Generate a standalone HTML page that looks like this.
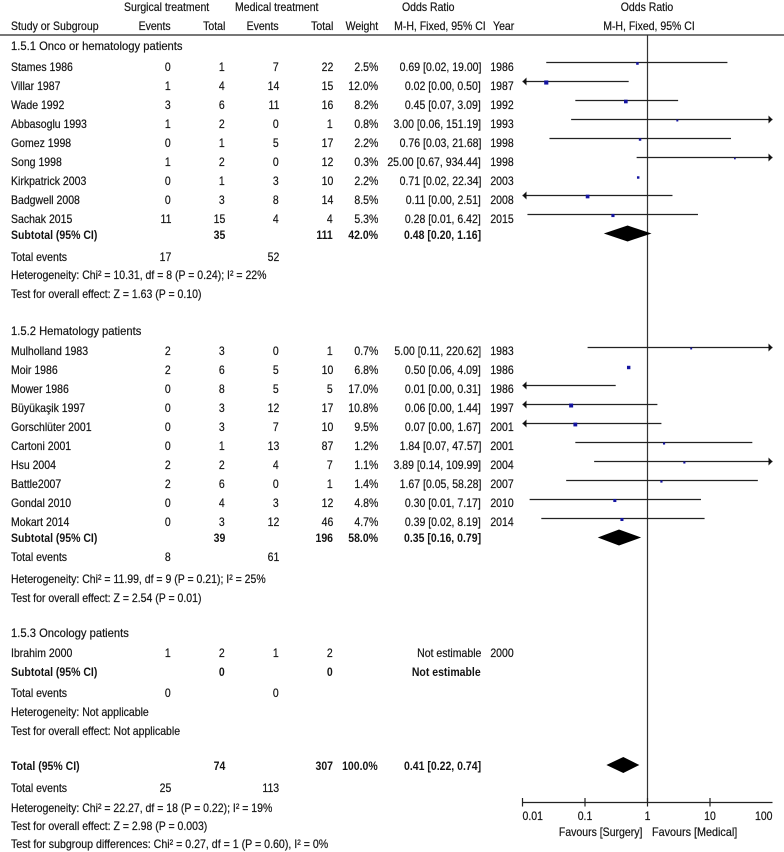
<!DOCTYPE html>
<html lang="en">
<head>
<meta charset="utf-8">
<title>Forest plot</title>
<style>
html,body{margin:0;padding:0;background:#fff;}
#page{position:relative;width:784px;height:852px;overflow:hidden;background:#fff;font-family:"Liberation Sans",sans-serif;font-size:12px;color:#141414;}
#plot{position:absolute;left:0;top:0;}
.r{position:absolute;left:0;width:784px;height:14px;line-height:14px;filter:blur(.25px);-webkit-text-stroke:.2px #141414;}
.r span{position:absolute;top:0;white-space:nowrap;transform:scaleX(.875);transform-origin:right center;}
.r.b{font-weight:bold;-webkit-text-stroke:0;}
.r span.c1{left:11px;transform-origin:left center;}
.r span.gt{transform:scaleX(.935);}
.c2{right:613px;}.c3{right:559px;}.c4{right:505px;}.c5{right:451px;}.c6{right:406px;}.c7{right:303px;}.c8{right:270px;}
.r span.cc{transform-origin:center center;transform:translateX(-50%) scaleX(.875);}
</style>
</head>
<body>
<div id="page">

<div class="r" style="top:0">
<span style="left:124px;transform-origin:left center">Surgical treatment</span>
<span style="left:235px;transform-origin:left center">Medical treatment</span>
<span style="left:402px;transform-origin:left center">Odds Ratio</span>
<span class="cc" style="left:647px">Odds Ratio</span>
</div>
<div class="r" style="top:19px">
<span class="c1">Study or Subgroup</span>
<span class="c2">Events</span>
<span class="c3">Total</span>
<span class="c4">Events</span>
<span class="c5">Total</span>
<span class="c6">Weight</span>
<span style="right:298px">M-H, Fixed, 95% CI</span>
<span class="c8">Year</span>
<span class="cc" style="left:649px">M-H, Fixed, 95% CI</span>
</div>

<div class="r" style="top:39px"><span class="c1 gt">1.5.1 Onco or hematology patients</span></div>

<div class="r" style="top:60px"><span class="c1">Stames 1986</span><span class="c2">0</span><span class="c3">1</span><span class="c4">7</span><span class="c5">22</span><span class="c6">2.5%</span><span class="c7">0.69 [0.02, 19.00]</span><span class="c8">1986</span></div>
<div class="r" style="top:79px"><span class="c1">Villar 1987</span><span class="c2">1</span><span class="c3">4</span><span class="c4">14</span><span class="c5">15</span><span class="c6">12.0%</span><span class="c7">0.02 [0.00, 0.50]</span><span class="c8">1987</span></div>
<div class="r" style="top:98px"><span class="c1">Wade 1992</span><span class="c2">3</span><span class="c3">6</span><span class="c4">11</span><span class="c5">16</span><span class="c6">8.2%</span><span class="c7">0.45 [0.07, 3.09]</span><span class="c8">1992</span></div>
<div class="r" style="top:117px"><span class="c1">Abbasoglu 1993</span><span class="c2">1</span><span class="c3">2</span><span class="c4">0</span><span class="c5">1</span><span class="c6">0.8%</span><span class="c7">3.00 [0.06, 151.19]</span><span class="c8">1993</span></div>
<div class="r" style="top:136px"><span class="c1">Gomez 1998</span><span class="c2">0</span><span class="c3">1</span><span class="c4">5</span><span class="c5">17</span><span class="c6">2.2%</span><span class="c7">0.76 [0.03, 21.68]</span><span class="c8">1998</span></div>
<div class="r" style="top:155px"><span class="c1">Song 1998</span><span class="c2">1</span><span class="c3">2</span><span class="c4">0</span><span class="c5">12</span><span class="c6">0.3%</span><span class="c7">25.00 [0.67, 934.44]</span><span class="c8">1998</span></div>
<div class="r" style="top:174px"><span class="c1">Kirkpatrick 2003</span><span class="c2">0</span><span class="c3">1</span><span class="c4">3</span><span class="c5">10</span><span class="c6">2.2%</span><span class="c7">0.71 [0.02, 22.34]</span><span class="c8">2003</span></div>
<div class="r" style="top:193px"><span class="c1">Badgwell 2008</span><span class="c2">0</span><span class="c3">3</span><span class="c4">8</span><span class="c5">14</span><span class="c6">8.5%</span><span class="c7">0.11 [0.00, 2.51]</span><span class="c8">2008</span></div>
<div class="r" style="top:212px"><span class="c1">Sachak 2015</span><span class="c2">11</span><span class="c3">15</span><span class="c4">4</span><span class="c5">4</span><span class="c6">5.3%</span><span class="c7">0.28 [0.01, 6.42]</span><span class="c8">2015</span></div>
<div class="r b" style="top:228px"><span class="c1">Subtotal (95% CI)</span><span class="c3">35</span><span class="c5">111</span><span class="c6">42.0%</span><span class="c7">0.48 [0.20, 1.16]</span></div>
<div class="r" style="top:250px"><span class="c1">Total events</span><span class="c2">17</span><span class="c4">52</span></div>
<div class="r" style="top:268px"><span class="c1">Heterogeneity: Chi² = 10.31, df = 8 (P = 0.24); I² = 22%</span></div>
<div class="r" style="top:287px"><span class="c1">Test for overall effect: Z = 1.63 (P = 0.10)</span></div>

<div class="r" style="top:324px"><span class="c1 gt">1.5.2 Hematology patients</span></div>
<div class="r" style="top:344px"><span class="c1">Mulholland 1983</span><span class="c2">2</span><span class="c3">3</span><span class="c4">0</span><span class="c5">1</span><span class="c6">0.7%</span><span class="c7">5.00 [0.11, 220.62]</span><span class="c8">1983</span></div>
<div class="r" style="top:363px"><span class="c1">Moir 1986</span><span class="c2">2</span><span class="c3">6</span><span class="c4">5</span><span class="c5">10</span><span class="c6">6.8%</span><span class="c7">0.50 [0.06, 4.09]</span><span class="c8">1986</span></div>
<div class="r" style="top:382px"><span class="c1">Mower 1986</span><span class="c2">0</span><span class="c3">8</span><span class="c4">5</span><span class="c5">5</span><span class="c6">17.0%</span><span class="c7">0.01 [0.00, 0.31]</span><span class="c8">1986</span></div>
<div class="r" style="top:401px"><span class="c1">Büyükaşik 1997</span><span class="c2">0</span><span class="c3">3</span><span class="c4">12</span><span class="c5">17</span><span class="c6">10.8%</span><span class="c7">0.06 [0.00, 1.44]</span><span class="c8">1997</span></div>
<div class="r" style="top:420px"><span class="c1">Gorschlüter 2001</span><span class="c2">0</span><span class="c3">3</span><span class="c4">7</span><span class="c5">10</span><span class="c6">9.5%</span><span class="c7">0.07 [0.00, 1.67]</span><span class="c8">2001</span></div>
<div class="r" style="top:439px"><span class="c1">Cartoni 2001</span><span class="c2">0</span><span class="c3">1</span><span class="c4">13</span><span class="c5">87</span><span class="c6">1.2%</span><span class="c7">1.84 [0.07, 47.57]</span><span class="c8">2001</span></div>
<div class="r" style="top:458px"><span class="c1">Hsu 2004</span><span class="c2">2</span><span class="c3">2</span><span class="c4">4</span><span class="c5">7</span><span class="c6">1.1%</span><span class="c7">3.89 [0.14, 109.99]</span><span class="c8">2004</span></div>
<div class="r" style="top:477px"><span class="c1">Battle2007</span><span class="c2">2</span><span class="c3">6</span><span class="c4">0</span><span class="c5">1</span><span class="c6">1.4%</span><span class="c7">1.67 [0.05, 58.28]</span><span class="c8">2007</span></div>
<div class="r" style="top:496px"><span class="c1">Gondal 2010</span><span class="c2">0</span><span class="c3">4</span><span class="c4">3</span><span class="c5">12</span><span class="c6">4.8%</span><span class="c7">0.30 [0.01, 7.17]</span><span class="c8">2010</span></div>
<div class="r" style="top:515px"><span class="c1">Mokart 2014</span><span class="c2">0</span><span class="c3">3</span><span class="c4">12</span><span class="c5">46</span><span class="c6">4.7%</span><span class="c7">0.39 [0.02, 8.19]</span><span class="c8">2014</span></div>
<div class="r b" style="top:531px"><span class="c1">Subtotal (95% CI)</span><span class="c3">39</span><span class="c5">196</span><span class="c6">58.0%</span><span class="c7">0.35 [0.16, 0.79]</span></div>
<div class="r" style="top:550px"><span class="c1">Total events</span><span class="c2">8</span><span class="c4">61</span></div>
<div class="r" style="top:572px"><span class="c1">Heterogeneity: Chi² = 11.99, df = 9 (P = 0.21); I² = 25%</span></div>
<div class="r" style="top:591px"><span class="c1">Test for overall effect: Z = 2.54 (P = 0.01)</span></div>

<div class="r" style="top:626px"><span class="c1 gt">1.5.3 Oncology patients</span></div>
<div class="r" style="top:646px"><span class="c1">Ibrahim 2000</span><span class="c2">1</span><span class="c3">2</span><span class="c4">1</span><span class="c5">2</span><span class="c7">Not estimable</span><span class="c8">2000</span></div>
<div class="r b" style="top:665px"><span class="c1">Subtotal (95% CI)</span><span class="c3">0</span><span class="c5">0</span><span class="c7">Not estimable</span></div>
<div class="r" style="top:686px"><span class="c1">Total events</span><span class="c2">0</span><span class="c4">0</span></div>
<div class="r" style="top:705px"><span class="c1">Heterogeneity: Not applicable</span></div>
<div class="r" style="top:724px"><span class="c1">Test for overall effect: Not applicable</span></div>

<div class="r b" style="top:759px"><span class="c1">Total (95% CI)</span><span class="c3">74</span><span class="c5">307</span><span class="c6">100.0%</span><span class="c7">0.41 [0.22, 0.74]</span></div>
<div class="r" style="top:781px"><span class="c1">Total events</span><span class="c2">25</span><span class="c4">113</span></div>
<div class="r" style="top:801px"><span class="c1">Heterogeneity: Chi² = 22.27, df = 18 (P = 0.22); I² = 19%</span></div>
<div class="r" style="top:819px"><span class="c1">Test for overall effect: Z = 2.98 (P = 0.003)</span></div>
<div class="r" style="top:837px"><span class="c1" style="transform:scaleX(.885)">Test for subgroup differences: Chi² = 0.27, df = 1 (P = 0.60), I² = 0%</span></div>

<div class="r" style="top:825px">
<span style="right:142px">Favours [Surgery]</span>
<span style="left:652px;transform-origin:left center;transform:scaleX(.9)">Favours [Medical]</span>
</div>

<svg id="plot" width="784" height="852" viewBox="0 0 784 852"></svg>
</div>

<script>
// Study-level values (rows in display order)
const group1OR = [0.69, 0.024, 0.45, 3.00, 0.76, 25.00, 0.71, 0.11, 0.28];
const group1Lower = [0.024, 0.001, 0.07, 0.06, 0.027, 0.67, null, 0.001, 0.012];
const group1Upper = [19.00, 0.50, 3.09, 151.19, 21.68, 934.44, null, 2.51, 6.42];
const group1Weight = [2.5, 12.0, 8.2, 0.8, 2.2, 0.3, 2.2, 8.5, 5.3];

const group2OR = [5.00, 0.50, 0.01, 0.06, 0.07, 1.84, 3.89, 1.67, 0.30, 0.39];
const group2Lower = [0.11, null, 0.001, 0.001, 0.001, 0.07, 0.14, 0.05, 0.013, 0.02];
const group2Upper = [220.62, null, 0.31, 1.44, 1.67, 47.57, 109.99, 58.28, 7.17, 8.19];
const group2Weight = [0.7, 6.8, 17.0, 10.8, 9.5, 1.2, 1.1, 1.4, 4.8, 4.7];

const subtotalOR = [0.48, 0.35];
const subtotalLower = [0.20, 0.16];
const subtotalUpper = [1.16, 0.79];

const totalOR = 0.41;
const totalLower = 0.22;
const totalUpper = 0.74;

const axisTicks = [0.01, 0.1, 1, 10, 100];
const axisTickLabels = ['0.01', '0.1', '1', '10', '100'];

const NS = 'http://www.w3.org/2000/svg';
const svg = document.getElementById('plot');
const X_ONE = 647.5, DECADE = 62.5, AXIS_MIN = 0.01, AXIS_MAX = 100;
const ROW_STEP = 19, AXIS_Y = 802.5, TOP_Y = 35, TOTAL_Y = 765;
const GROUP_START = [62.5, 347.5];

function xScale(v) { return X_ONE + DECADE * Math.log10(v); }
function rowY(group, i) { return GROUP_START[group] + i * ROW_STEP; }
function make(tag, attrs) {
  const el = document.createElementNS(NS, tag);
  for (const k in attrs) el.setAttribute(k, attrs[k]);
  svg.appendChild(el);
  return el;
}

const headerRule = make('rect', { x: 0, y: 34, width: 784, height: 2, fill: '#777' });



const nullLine = make('line', { x1: xScale(1), x2: xScale(1), y1: TOP_Y, y2: AXIS_Y, stroke: '#333', 'stroke-width': 1.2 });



function drawStudy(group, i, or, lo, up, wt) {
  const y = rowY(group, i);
  if (lo !== null && up !== null) {
    const x1 = xScale(Math.max(lo, AXIS_MIN));
    const x2 = xScale(Math.min(up, AXIS_MAX));
    const ci = make('line', { x1: x1, x2: x2, y1: y, y2: y, stroke: '#222', 'stroke-width': 1.3 });
    
    
    if (lo < AXIS_MIN) {
      const la = make('polygon', { points: (x1) + ',' + y + ' ' + (x1 + 4) + ',' + (y - 4) + ' ' + (x1 + 4) + ',' + (y + 4), fill: '#111' });
      
      
    }
    if (up > AXIS_MAX) {
      const ra = make('polygon', { points: (x2) + ',' + y + ' ' + (x2 - 4) + ',' + (y - 4) + ' ' + (x2 - 4) + ',' + (y + 4), fill: '#111' });
      
      
    }
  }
  if (or > AXIS_MIN) {
    const s = 1.2 + Math.sqrt(wt) * 0.85;
    const m = make('rect', { x: xScale(or) - s / 2, y: y + 1 - s / 2, width: s, height: s, fill: '#1414a0' });
    
    
  }
}
group1OR.forEach(function (v, i) { drawStudy(0, i, v, group1Lower[i], group1Upper[i], group1Weight[i]); });
group2OR.forEach(function (v, i) { drawStudy(1, i, v, group2Lower[i], group2Upper[i], group2Weight[i]); });

function drawDiamond(y, or, lo, up) {
  const d = make('polygon', {
    points: xScale(lo) + ',' + y + ' ' + xScale(or) + ',' + (y - 8) + ' ' + xScale(up) + ',' + y + ' ' + xScale(or) + ',' + (y + 8),
    fill: '#000'
  });
  return d;
}
const sub1 = drawDiamond(rowY(0, group1OR.length), subtotalOR[0], subtotalLower[0], subtotalUpper[0]);


const sub2 = drawDiamond(rowY(1, group2OR.length), subtotalOR[1], subtotalLower[1], subtotalUpper[1]);


const totalD = drawDiamond(TOTAL_Y, totalOR, totalLower, totalUpper);



const axisLine = make('line', { x1: xScale(AXIS_MIN), x2: xScale(AXIS_MAX), y1: AXIS_Y, y2: AXIS_Y, stroke: '#222', 'stroke-width': 1.2 });



axisTicks.forEach(function (t, i) {
  const x = xScale(t);
  if (i < axisTicks.length - 1) {
    const tk = make('line', { x1: x, x2: x, y1: AXIS_Y - 4.5, y2: AXIS_Y + 4, stroke: '#222', 'stroke-width': 1.2 });
    
    
  }
  const anchor = i === 0 ? 'start' : (i === axisTicks.length - 1 ? 'end' : 'middle');
  const lbl = make('text', {
    transform: 'translate(' + x + ',820) scale(.875,1)',
    'text-anchor': anchor,
    'font-family': '"Liberation Sans",sans-serif',
    'font-size': 12,
    stroke: '#141414',
    'stroke-width': 0.2,
    fill: '#141414'
  });
  lbl.textContent = axisTickLabels[i];
  
  
});
</script>
</body>
</html>
